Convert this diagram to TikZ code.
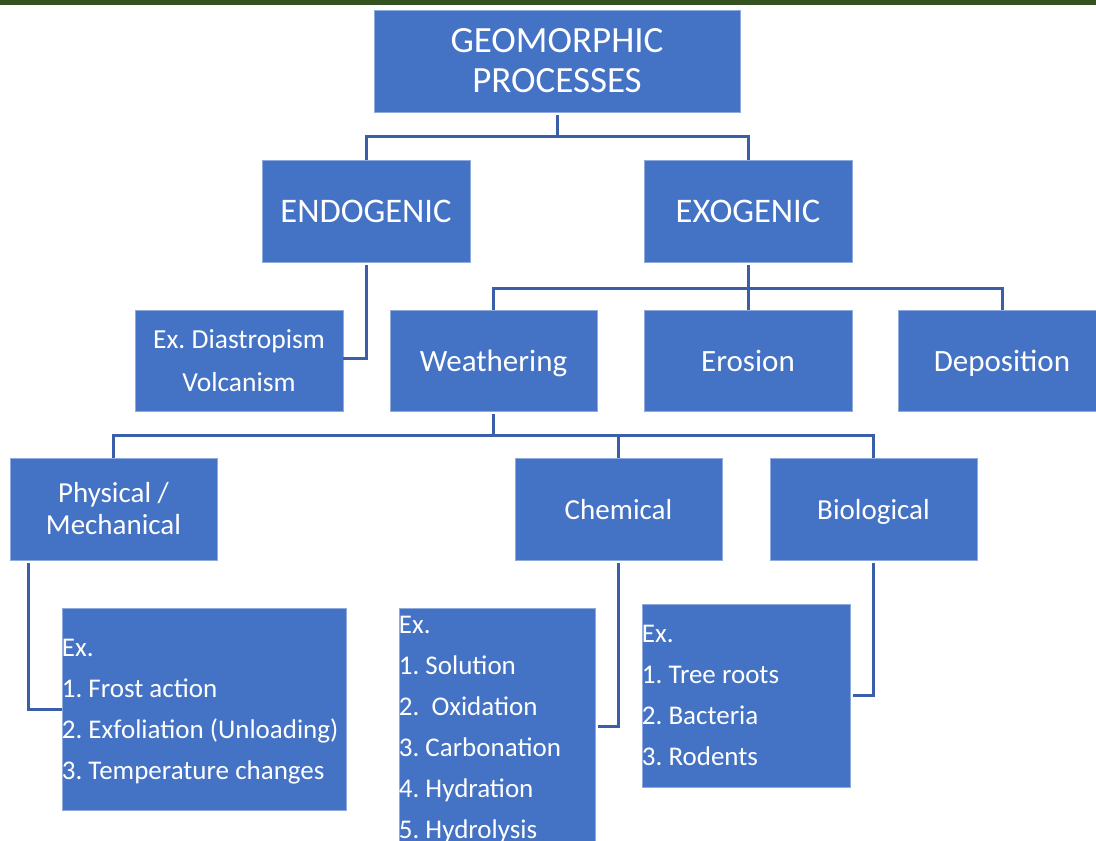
\documentclass[tikz,border=0pt]{standalone}
\usepackage{fontspec}
\setmainfont{Carlito}
\definecolor{boxblue}{RGB}{68,114,196}
\definecolor{linkblue}{RGB}{58,94,168}
\definecolor{bargreen}{RGB}{51,82,31}
\frenchspacing
\begin{document}
\begin{tikzpicture}[x=1pt,y=-1pt,
  box/.style={fill=boxblue,draw=boxblue!60!white,line width=0.6pt,text=white,inner sep=0pt,align=center},
  listbox/.style={fill=boxblue,draw=boxblue!60!white,line width=0.6pt,inner sep=0pt},
  listtext/.style={text=white,inner sep=0pt,align=left,font=\fontsize{27}{41}\selectfont\frenchspacing,anchor=west},
  link/.style={draw=linkblue,line width=3pt}]
\useasboundingbox (0,0) rectangle (1096,841);
\clip (0,0) rectangle (1096,841);
\fill[bargreen] (0,0) rectangle (1096,5);
% boxes
\node[box,minimum width=366pt,minimum height=102pt,font=\fontsize{37}{40}\selectfont] (geo) at (557,61) {GEOMORPHIC\\PROCESSES};
\node[box,minimum width=208pt,minimum height=102pt,font=\fontsize{34.5}{40}\selectfont] (endo) at (366,211) {ENDOGENIC};
\node[box,minimum width=208pt,minimum height=102pt,font=\fontsize{34.5}{40}\selectfont] (exo) at (748,211) {EXOGENIC};
\node[box,minimum width=208pt,minimum height=101pt,font=\fontsize{27.5}{43}\selectfont\frenchspacing] (dia) at (239,360.5) {Ex. Diastropism\\Volcanism};
\node[box,minimum width=207pt,minimum height=101pt,font=\fontsize{31}{38}\selectfont,text height=22pt,text depth=0pt] (wea) at (493.5,360.5) {Weathering};
\node[box,minimum width=208pt,minimum height=101pt,font=\fontsize{31}{38}\selectfont,text height=22pt,text depth=0pt] (ero) at (748,360.5) {Erosion};
\node[box,minimum width=208pt,minimum height=101pt,font=\fontsize{31}{38}\selectfont,text height=22pt,text depth=0pt] (dep) at (1002,360.5) {Deposition};
\node[box,minimum width=207pt,minimum height=102pt,font=\fontsize{29}{32}\selectfont] (phy) at (113.5,509) {Physical /\\Mechanical};
\node[box,minimum width=207pt,minimum height=102pt,font=\fontsize{29}{32}\selectfont,text height=20pt,text depth=0pt] (che) at (618.5,509) {Chemical};
\node[box,minimum width=207pt,minimum height=102pt,font=\fontsize{29}{32}\selectfont,text height=20pt,text depth=0pt] (bio) at (873.5,509) {Biological};
\node[listbox,minimum width=284pt,minimum height=202pt] (lphy) at (204,709) {};
\node[listtext] (tphy) at ([yshift=-3pt]lphy.west) {Ex.\\1. Frost action\\2. Exfoliation (Unloading)\\3. Temperature changes};
\node[listbox,minimum width=196pt,minimum height=237pt] (lche) at (497,726.5) {};
\node[listtext] (tche) at ([yshift=-3pt]lche.west) {Ex.\\1. Solution\\2.\ \ Oxidation\\3. Carbonation\\4. Hydration\\5. Hydrolysis};
\node[listbox,minimum width=208pt,minimum height=183pt] (lbio) at (746,695.5) {};
\node[listtext] (tbio) at ([yshift=0pt]lbio.west) {Ex.\\1. Tree roots\\2. Bacteria\\3. Rodents};
% connectors
\draw[link] ([yshift=-3pt]geo.south) -- ++(0,21) -| (endo.north);
\draw[link] ([yshift=-3pt]geo.south) -- ++(0,21) -| (exo.north);
\draw[link] ([yshift=-3pt]endo.south) |- ([yshift=2.5pt]dia.east);
\draw[link] ([yshift=-3pt]exo.south) -- ++(0,23) -| (wea.north);
\draw[link] ([yshift=-3pt]exo.south) -- ++(0,23) -| (dep.north);
\draw[link] ([yshift=-3pt]exo.south) -- (ero.north);
\draw[link] ([yshift=-3pt]wea.south) -- ++(0,21) -| (phy.north);
\draw[link] ([yshift=-3pt]wea.south) -- ++(0,21) -| (che.north);
\draw[link] ([yshift=-3pt]wea.south) -- ++(0,21) -| (bio.north);
\draw[link] ([xshift=19pt,yshift=-3pt]phy.south west) |- (lphy.west);
\draw[link] ([yshift=-3pt]che.south) |- ([xshift=3pt]lche.east);
\draw[link] ([yshift=-3pt]bio.south) |- ([xshift=3pt]lbio.east);
\end{tikzpicture}
\end{document}
